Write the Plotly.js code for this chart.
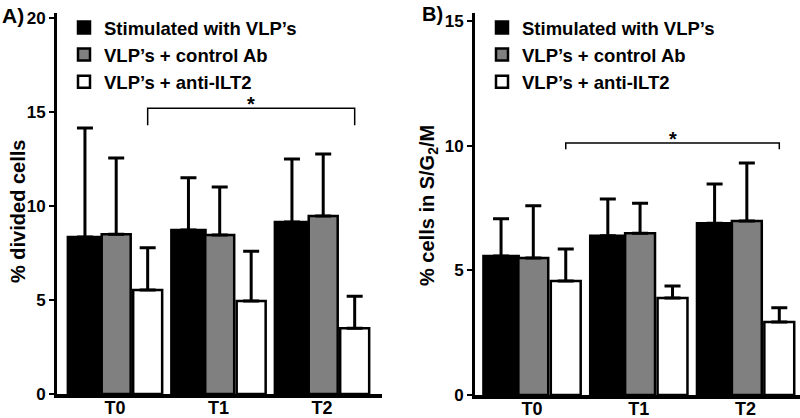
<!DOCTYPE html>
<html>
<head>
<meta charset="utf-8">
<script src="https://cdn.plot.ly/plotly-3.0.1.min.js"></script>
<style>html,body{margin:0;padding:0;background:#fff;}#chart{width:800px;height:418px;}</style>
</head>
<body>
<div id="chart"></div>
<script>
// ---- data ----
const categories = ['T0', 'T1', 'T2'];
const seriesNames = ['Stimulated with VLP’s', 'VLP’s + control Ab', 'VLP’s + anti-ILT2'];

// Panel A: % divided cells
const divStim = [8.35, 8.72, 9.15];
const divStimErr = [5.8, 2.78, 3.35];
const divCtrl = [8.5, 8.46, 9.47];
const divCtrlErr = [4.05, 2.55, 3.3];
const divAnti = [5.53, 4.95, 3.5];
const divAntiErr = [2.25, 2.65, 1.7];

// Panel B: % cells in S/G2/M
const sgmStim = [5.58, 6.39, 6.9];
const sgmStimErr = [1.5, 1.48, 1.57];
const sgmCtrl = [5.5, 6.5, 6.99];
const sgmCtrlErr = [2.1, 1.2, 2.33];
const sgmAnti = [4.58, 3.9, 2.93];
const sgmAntiErr = [1.28, 0.48, 0.57];

// significance brackets (between anti-ILT2 bars of T0 and T2)
const sigA = {from: 'T0', to: 'T2', y: 15.2, drop: 0.9, label: '*'};
const sigB = {from: 'T0', to: 'T2', y: 10.12, drop: 0.25, label: '*'};

// ---- styling ----
const FONT = 'Liberation Sans, Arial, Helvetica, sans-serif';
const fills = ['#000000', '#808080', '#ffffff'];
const offsets = [-0.455, -0.128, 0.176];
const widths = [0.33, 0.28, 0.28];

function makeTraces(vals, errs, xa, ya, legendName) {
  return vals.map((v, i) => ({
    type: 'bar',
    x: categories,
    y: v,
    name: seriesNames[i],
    xaxis: xa, yaxis: ya,
    legend: legendName,
    offset: offsets[i],
    width: widths[i],
    marker: {color: fills[i], line: {color: '#000', width: 2.5}},
    error_y: {type: 'data', symmetric: false, array: errs[i], arrayminus: [0, 0, 0],
              color: '#000', thickness: 3, width: 8},
    hoverinfo: 'skip'
  }));
}

const traces = [
  ...makeTraces([divStim, divCtrl, divAnti], [divStimErr, divCtrlErr, divAntiErr], 'x', 'y', 'legend'),
  ...makeTraces([sgmStim, sgmCtrl, sgmAnti], [sgmStimErr, sgmCtrlErr, sgmAntiErr], 'x2', 'y2', 'legend2')
];

function bracket(sig, xref, yref) {
  const whiteCenter = offsets[2] + widths[2] / 2;
  const x0 = categories.indexOf(sig.from) + whiteCenter;
  const x1 = categories.indexOf(sig.to) + whiteCenter;
  return {
    shape: {type: 'path', xref: xref, yref: yref,
      path: `M${x0},${sig.y - sig.drop} L${x0},${sig.y} L${x1},${sig.y} L${x1},${sig.y - sig.drop}`,
      line: {color: '#000', width: 1.5}},
    ann: {xref: xref, yref: yref, x: (x0 + x1) / 2, y: sig.y, text: sig.label, showarrow: false,
      yanchor: 'bottom', yshift: -9, font: {family: FONT, size: 20, color: '#000', weight: 'bold'}}
  };
}
const bA = bracket(sigA, 'x', 'y');
const bB = bracket(sigB, 'x2', 'y2');

const yAxisCommon = {
  showgrid: false, zeroline: false, showline: true, linecolor: '#000', linewidth: 3,
  ticks: 'outside', ticklen: 5, tickwidth: 2, tickcolor: '#000',
  tickfont: {family: FONT, size: 17, color: '#000', weight: 'bold'}, fixedrange: true
};
const xAxisCommon = {
  type: 'category', showgrid: false, zeroline: false, showline: true, linecolor: '#000', linewidth: 3.5,
  ticks: '', ticklabelstandoff: -5,
  tickfont: {family: FONT, size: 18, color: '#000', weight: 'bold'}, fixedrange: true
};

const legendCommon = {
  font: {family: FONT, size: 18.5, color: '#000', weight: 'bold'},
  bgcolor: 'rgba(0,0,0,0)', borderwidth: 0, xanchor: 'left', yanchor: 'top',
  traceorder: 'normal', itemclick: false, itemdoubleclick: false
};

const titleFont = {family: FONT, size: 20, color: '#000', weight: 'bold'};

const layout = {
  width: 800, height: 418,
  margin: {l: 0, r: 0, t: 0, b: 0},
  paper_bgcolor: '#fff', plot_bgcolor: 'rgba(0,0,0,0)',
  font: {family: FONT, color: '#000'},
  barmode: 'group',
  showlegend: true,
  xaxis: Object.assign({}, xAxisCommon, {domain: [57 / 800, 382 / 800], range: [-0.56, 2.58], anchor: 'y'}),
  yaxis: Object.assign({}, yAxisCommon, {domain: [1 - 394 / 418, 1 - 13 / 418], range: [0, 20.27], tickvals: [0, 5, 10, 15, 20], anchor: 'x'}),
  xaxis2: Object.assign({}, xAxisCommon, {domain: [475 / 800, 1], range: [-0.534, 2.51], anchor: 'y2'}),
  yaxis2: Object.assign({}, yAxisCommon, {domain: [1 - 395 / 418, 1 - 13 / 418], range: [0, 15.34], tickvals: [0, 5, 10, 15], anchor: 'x2'}),
  legend: Object.assign({}, legendCommon, {x: 64 / 800, y: 1 - 9 / 418}),
  legend2: Object.assign({}, legendCommon, {x: 482 / 800, y: 1 - 9 / 418}),
  shapes: [bA.shape, bB.shape],
  annotations: [
    bA.ann, bB.ann,
    {xref: 'paper', yref: 'paper', x: 18 / 800, y: 1 - 212 / 418, text: '% divided cells', textangle: -90,
     showarrow: false, xanchor: 'center', yanchor: 'middle', font: titleFont},
    {xref: 'paper', yref: 'paper', x: 428 / 800, y: 1 - 206 / 418, text: '% cells in S/G<sub>2</sub>/M', textangle: -90,
     showarrow: false, xanchor: 'center', yanchor: 'middle', font: titleFont},
    {xref: 'paper', yref: 'paper', x: 0, y: 1 - 15 / 418, text: 'A)', showarrow: false,
     xanchor: 'left', yanchor: 'middle', font: {family: FONT, size: 21, color: '#000', weight: 'bold'}},
    {xref: 'paper', yref: 'paper', x: 420 / 800, y: 1 - 14 / 418, text: 'B)', showarrow: false,
     xanchor: 'left', yanchor: 'middle', font: {family: FONT, size: 20, color: '#000', weight: 'bold'}}
  ]
};

Plotly.newPlot('chart', traces, layout, {staticPlot: true, displayModeBar: false});
</script>
</body>
</html>
